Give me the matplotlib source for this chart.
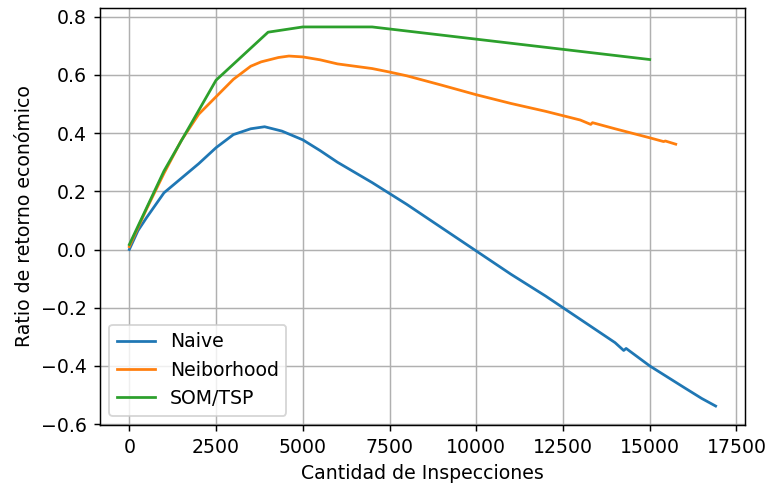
import matplotlib
matplotlib.use("Agg")
import matplotlib.pyplot as plt

# Naive
naive_x = [0, 250, 500, 1000, 1500, 2000, 2500, 3000, 3500, 3900, 4400, 5000, 5500,
           6000, 7000, 8000, 9000, 10000, 11000, 12000, 13000, 14000, 14250, 14320,
           15000, 16000, 16500, 16900]
naive_y = [0.0, 0.065, 0.11, 0.195, 0.245, 0.295, 0.35, 0.395, 0.415, 0.422, 0.407,
           0.377, 0.34, 0.30, 0.23, 0.155, 0.075, -0.005, -0.085, -0.16, -0.24,
           -0.32, -0.347, -0.340, -0.40, -0.475, -0.512, -0.538]

# Neiborhood
neib_x = [0, 250, 500, 1000, 1500, 2000, 2500, 3000, 3500, 3800, 4300, 4600, 5000,
          5500, 6000, 7000, 7500, 8000, 9000, 10000, 11000, 12000, 13000, 13300,
          13350, 14000, 15000, 15400, 15450, 15750]
neib_y = [0.01, 0.075, 0.14, 0.262, 0.375, 0.465, 0.525, 0.585, 0.63, 0.645, 0.66,
          0.665, 0.662, 0.652, 0.638, 0.622, 0.61, 0.597, 0.565, 0.532, 0.502,
          0.475, 0.445, 0.43, 0.436, 0.415, 0.384, 0.371, 0.373, 0.362]

# SOM/TSP
som_x = [0, 1000, 2500, 4000, 5000, 7000, 15000]
som_y = [0.017, 0.27, 0.582, 0.747, 0.765, 0.765, 0.653]

plt.rcParams["font.size"] = 10.3

fig, ax = plt.subplots(figsize=(768 / 132, 487 / 132), dpi=132)
fig.subplots_adjust(left=0.1302, right=0.970, bottom=0.1273, top=0.9836)

ax.plot(naive_x, naive_y, label="Naive")
ax.plot(neib_x, neib_y, label="Neiborhood")
ax.plot(som_x, som_y, label="SOM/TSP")

ax.set_xlabel("Cantidad de Inspecciones")
ax.set_ylabel("Ratio de retorno económico")
ax.set_xticks([0, 2500, 5000, 7500, 10000, 12500, 15000, 17500])
ax.grid(True)
ax.legend(loc="lower left")

fig.savefig("out.png", dpi=132)
